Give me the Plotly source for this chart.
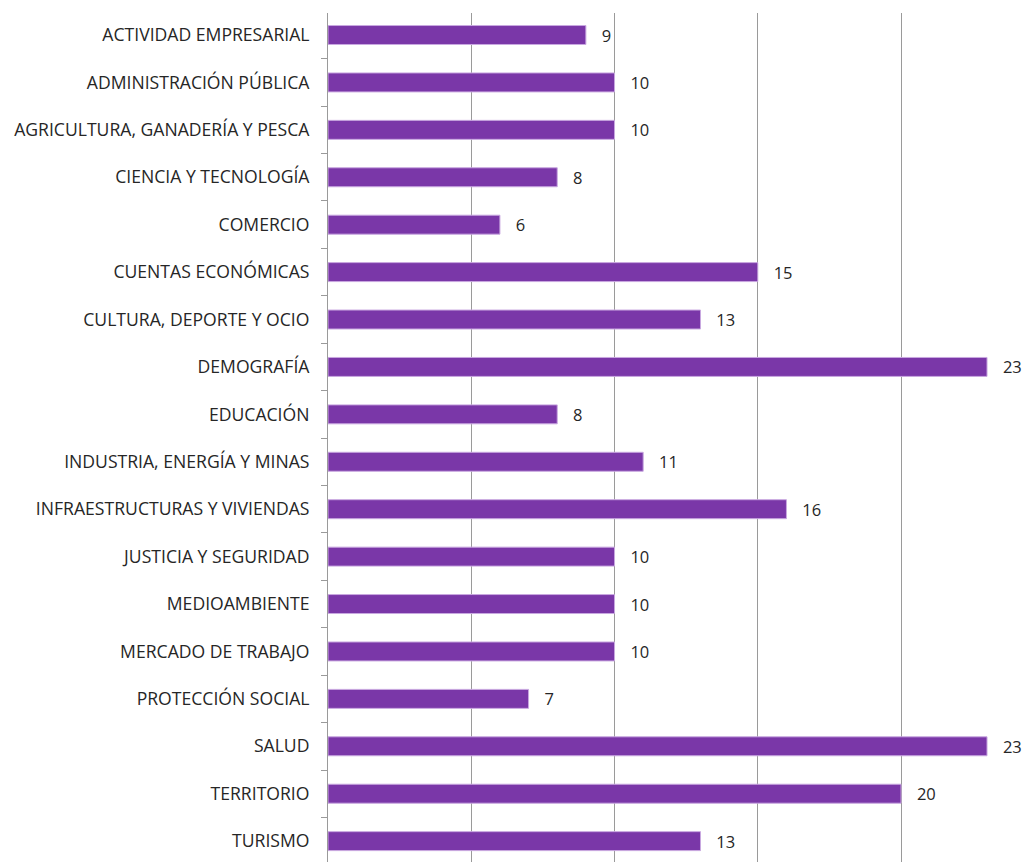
import plotly.graph_objects as go

categorias = [
    "ACTIVIDAD EMPRESARIAL",
    "ADMINISTRACIÓN PÚBLICA",
    "AGRICULTURA, GANADERÍA Y PESCA",
    "CIENCIA Y TECNOLOGÍA",
    "COMERCIO",
    "CUENTAS ECONÓMICAS",
    "CULTURA, DEPORTE Y OCIO",
    "DEMOGRAFÍA",
    "EDUCACIÓN",
    "INDUSTRIA, ENERGÍA Y MINAS",
    "INFRAESTRUCTURAS Y VIVIENDAS",
    "JUSTICIA Y SEGURIDAD",
    "MEDIOAMBIENTE",
    "MERCADO DE TRABAJO",
    "PROTECCIÓN SOCIAL",
    "SALUD",
    "TERRITORIO",
    "TURISMO",
]
valores = [9, 10, 10, 8, 6, 15, 13, 23, 8, 11, 16, 10, 10, 10, 7, 23, 20, 13]

fig = go.Figure()
fig.add_trace(go.Bar(
    y=categorias, x=valores, orientation="h",
    width=0.4,
    marker=dict(color="#7A37A8", line=dict(color="#C9A8E0", width=1)),
    text=["   " + str(v) for v in valores], textposition="outside",
    textfont=dict(size=16.5, color="#262626"),
    constraintext="none",
    cliponaxis=False,
))

fig.update_layout(
    width=1030, height=862,
    margin=dict(l=328, r=0, t=13, b=0, autoexpand=False),
    plot_bgcolor="white", paper_bgcolor="white",
    font=dict(family="Open Sans, Liberation Sans, sans-serif", size=17.6, color="#262626"),
    showlegend=False,
    xaxis=dict(range=[0, 24.5], showticklabels=False, showgrid=True,
               gridcolor="#9a9a9a", gridwidth=1, dtick=5, zeroline=False,
               showline=False, automargin=False),
    yaxis=dict(type="category", categoryorder="array", categoryarray=categorias,
               range=[17.44, -0.464], showline=True, linecolor="#9a9a9a",
               linewidth=1, ticks="outside", ticklen=6, tickcolor="#9a9a9a",
               tickson="boundaries", ticklabelstandoff=14, showgrid=False,
               automargin=False),
)

fig.write_html("out.html", config={"displayModeBar": False},
               post_script="document.body.style.margin='0px';")
